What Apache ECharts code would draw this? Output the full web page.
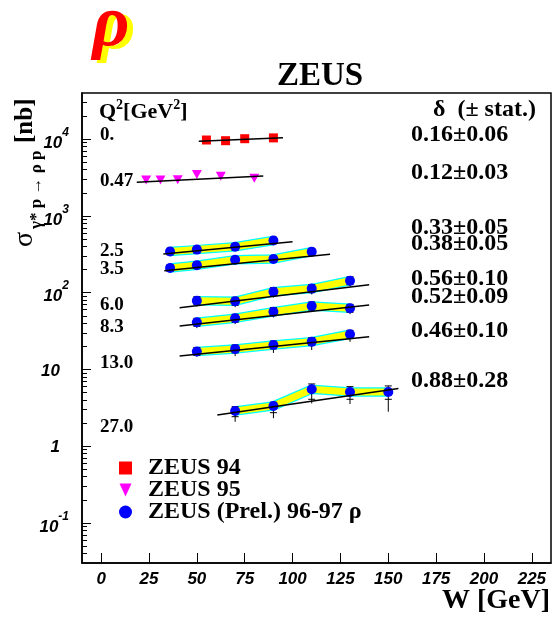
<!DOCTYPE html>
<html><head><meta charset="utf-8">
<script src="https://cdn.jsdelivr.net/npm/echarts@6/dist/echarts.min.js"></script>
<style>html,body{margin:0;padding:0;background:#fff}#c{width:553px;height:621px}</style>
</head><body><div id="c"></div>
<script>
// ---------- axis ticks ----------
const xTicks = [0, 25, 50, 75, 100, 125, 150, 175, 200, 225];
const yTicks = [0.1, 1, 10, 100, 1000, 10000];

// ---------- ZEUS 94 (Q2 = 0) ----------
const w94 = [55, 65, 75, 90];
const s94 = [9760, 9560, 10150, 10400];
const fit94W = [51, 95];
const fit94S = [9390, 10460];

// ---------- ZEUS 95 (Q2 = 0.47) ----------
const w95 = [23.5, 31, 40, 50, 62.5, 80];
const s95 = [2940, 2940, 2960, 3460, 3290, 3090];
const fit95W = [18.6, 84.7];
const fit95S = [2740, 3310];

// ---------- ZEUS (Prel.) 96-97 ----------
const w25 = [36, 50, 70, 90];
const s25 = [344, 364, 396, 479];
const hi25 = [380, 402, 438, 529];
const lo25 = [311, 329, 358, 433];
const tot25 = [303, 320, 348, 421];
const fit25W = [32.5, 100];
const fit25S = [318, 461];

const w35 = [36, 50, 70, 90, 110];
const s35 = [210, 228, 269, 275, 342];
const hi35 = [232, 252, 297, 304, 378];
const lo35 = [190, 206, 243, 249, 309];
const tot35 = [185, 201, 237, 242, 301];
const fit35W = [33, 119.6];
const fit35S = [193, 316];

const w60 = [50, 70, 90, 110, 130];
const s60 = [78.6, 77.2, 103, 113, 143];
const hi60 = [88.6, 87.0, 116, 127, 161];
const lo60 = [69.7, 68.5, 91.4, 100, 127];
const tot60 = [66.0, 64.8, 86.5, 94.9, 120];
const fit60W = [41, 140];
const fit60S = [63.5, 127];

const w83 = [50, 70, 90, 110, 130];
const s83 = [41.1, 46.4, 56.5, 67.0, 62.5];
const hi83 = [46.3, 52.3, 63.7, 75.5, 70.4];
const lo83 = [36.5, 41.2, 50.1, 59.4, 55.5];
const tot83 = [34.5, 39.0, 47.5, 56.3, 52.5];
const fit83W = [41, 140];
const fit83S = [36.7, 68.9];

const w130 = [50, 70, 90, 110, 130];
const s130 = [17.1, 18.5, 20.8, 23.0, 28.7];
const hi130 = [19.3, 20.8, 23.4, 25.9, 32.3];
const lo130 = [15.2, 16.4, 18.5, 20.4, 25.5];
const tot130 = [14.6, 14.9, 16.4, 17.9, 22.9];
const fit130W = [41, 140];
const fit130S = [15.0, 26.6];

const w270 = [70, 90, 110, 130, 150];
const s270 = [2.87, 3.34, 5.51, 5.08, 5.08];
const hi270 = [3.27, 3.73, 6.46, 5.96, 6.09];
const lo270 = [2.42, 2.73, 4.08, 4.08, 4.08];
const tot270 = [2.08, 2.31, 3.61, 3.54, 2.81];
const fit270W = [60.7, 155.3];
const fit270S = [2.54, 5.65];

// ---------- texts ----------
const q2Labels = ['0.', '0.47', '2.5', '3.5', '6.0', '8.3', '13.0', '27.0'];
const deltaLabels = ['0.16\u00b10.06', '0.12\u00b10.03', '0.33\u00b10.05', '0.38\u00b10.05',
                     '0.56\u00b10.10', '0.52\u00b10.09', '0.46\u00b10.10', '0.88\u00b10.28'];
const legendNames = ['ZEUS 94', 'ZEUS 95', 'ZEUS (Prel.) 96-97 \u03c1'];

// ---------- layout (pixels) ----------
const q2LabelY = [135, 181, 251, 269, 305, 327, 363, 427];
const deltaLabelY = [135, 173, 228, 244, 279, 297, 331, 381];

const SERIF = '"Liberation Serif", "DejaVu Serif", serif';
const SANS = '"Liberation Sans", Arial, sans-serif';

const rows = [
  {w: w25, s: s25, hi: hi25, lo: lo25, tot: tot25, fw: fit25W, fs: fit25S},
  {w: w35, s: s35, hi: hi35, lo: lo35, tot: tot35, fw: fit35W, fs: fit35S},
  {w: w60, s: s60, hi: hi60, lo: lo60, tot: tot60, fw: fit60W, fs: fit60S},
  {w: w83, s: s83, hi: hi83, lo: lo83, tot: tot83, fw: fit83W, fs: fit83S},
  {w: w130, s: s130, hi: hi130, lo: lo130, tot: tot130, fw: fit130W, fs: fit130S},
  {w: w270, s: s270, hi: hi270, lo: lo270, tot: tot270, fw: fit270W, fs: fit270S}
];

const pairs = (a, b) => a.map((v, i) => [v, b[i]]);

const minorTicks = [];
for (let e = -2; e <= 4; e++) {
  for (let m = 2; m <= 9; m++) {
    const v = m * Math.pow(10, e);
    if (v > 0.03 && v < 40000) minorTicks.push(v);
  }
}

function errRender(params, api) {
  const x = api.value(0);
  const pT = api.coord([x, api.value(1)]);
  const pL = api.coord([x, api.value(2)]);
  const pH = api.coord([x, api.value(3)]);
  const c = 3.5;
  const st = {stroke: '#000', lineWidth: 1};
  return {type: 'group', children: [
    {type: 'line', shape: {x1: pT[0], y1: pT[1], x2: pH[0], y2: pH[1]}, style: st},
    {type: 'line', shape: {x1: pH[0] - c, y1: pH[1], x2: pH[0] + c, y2: pH[1]}, style: st},
    {type: 'line', shape: {x1: pL[0] - c, y1: pL[1], x2: pL[0] + c, y2: pL[1]}, style: st}
  ]};
}

const series = [];
series.push({name: legendNames[0], type: 'scatter', data: pairs(w94, s94), symbol: 'rect', symbolSize: 9,
  itemStyle: {color: '#ff0000', opacity: 1}, z: 5});
series.push({name: 'fit0', type: 'line', data: pairs(fit94W, fit94S), symbol: 'none', silent: true,
  lineStyle: {color: '#000', width: 1.5}, z: 6});
series.push({name: legendNames[1], type: 'scatter', data: pairs(w95, s95), symbol: 'triangle', symbolRotate: 180,
  symbolSize: [10, 9], itemStyle: {color: '#ff00ff', opacity: 1}, z: 5});
series.push({name: 'fit1', type: 'line', data: pairs(fit95W, fit95S), symbol: 'none', silent: true,
  lineStyle: {color: '#000', width: 1.5}, z: 6});

rows.forEach((r, k) => {
  series.push({name: 'bandE' + k, type: 'line', data: pairs(r.w, r.s), symbol: 'none', silent: true,
    lineStyle: {color: '#00ffff', width: 9.5, cap: 'butt', join: 'miter'}, z: 2});
  series.push({name: 'bandF' + k, type: 'line', data: pairs(r.w, r.s), symbol: 'none', silent: true,
    lineStyle: {color: '#ffff00', width: 7, cap: 'butt', join: 'miter'}, z: 3});
  series.push({name: 'err' + k, type: 'custom', renderItem: errRender, silent: true, z: 4,
    data: r.w.map((w, i) => [w, r.tot[i], r.lo[i], r.hi[i]])});
  series.push({name: legendNames[2], type: 'scatter', data: pairs(r.w, r.s), symbol: 'circle', symbolSize: 10,
    itemStyle: {color: '#0000ff', opacity: 1}, z: 5});
  series.push({name: 'fitR' + k, type: 'line', data: pairs(r.fw, r.fs), symbol: 'none', silent: true,
    lineStyle: {color: '#000', width: 1.5}, z: 6});
});

function yFmt(v) {
  const e = Math.round(Math.log10(v));
  if (e === 0) return '{c|1}{p|}';
  if (e === 1) return '{c|10}{p|}';
  return '{b|10}{s|' + e + '}';
}

const graphic = [];
// rho logo
graphic.push({type: 'text', x: 117, y: 29, z: 10, style: {text: '\u03c1', font: 'italic bold 72px ' + SERIF,
  fill: '#ffff00', textAlign: 'center', textVerticalAlign: 'middle'}});
graphic.push({type: 'text', x: 111, y: 26, z: 11, style: {text: '\u03c1', font: 'italic bold 72px ' + SERIF,
  fill: '#ff0000', textAlign: 'center', textVerticalAlign: 'middle'}});
// title
graphic.push({type: 'text', x: 320, y: 76, style: {text: 'ZEUS', font: 'bold 33px ' + SERIF,
  fill: '#000', textAlign: 'center', textVerticalAlign: 'middle'}});
// Q2 header
graphic.push({type: 'text', x: 99, y: 109, style: {
  text: '{b|Q}{s|2}{b|[GeV}{s|2}{b|]}', textAlign: 'left', textVerticalAlign: 'middle',
  rich: {
    b: {font: 'bold 22px ' + SERIF, fill: '#000', lineHeight: 22, padding: [6, 0, 0, 0], verticalAlign: 'middle'},
    s: {font: 'bold 14px ' + SERIF, fill: '#000', lineHeight: 14, padding: [0, 0, 8, 0], verticalAlign: 'middle'}
  }}});
// delta header
graphic.push({type: 'text', x: 433, y: 110, style: {text: '\u03b4  (\u00b1 stat.)', font: 'bold 24px ' + SERIF,
  fill: '#000', textAlign: 'left', textVerticalAlign: 'middle'}});
q2Labels.forEach((t, i) => graphic.push({type: 'text', x: 100, y: q2LabelY[i], style: {text: t,
  font: 'bold 19px ' + SERIF, fill: '#000', textAlign: 'left', textVerticalAlign: 'middle'}}));
deltaLabels.forEach((t, i) => graphic.push({type: 'text', x: 411, y: deltaLabelY[i], style: {text: t,
  font: 'bold 24px ' + SERIF, fill: '#000', textAlign: 'left', textVerticalAlign: 'middle'}}));
// x axis title
graphic.push({type: 'text', x: 550, y: 601, style: {text: 'W [GeV]', font: 'bold 28px ' + SERIF,
  fill: '#000', textAlign: 'right', textVerticalAlign: 'middle'}});
// y axis title (rotated)
graphic.push({type: 'group', x: 34, y: 247, rotation: Math.PI / 2, children: [
  {type: 'text', x: 0, y: -9.5, style: {text: '\u03c3', font: '28px ' + SERIF, fill: '#000',
    textAlign: 'left', textVerticalAlign: 'middle'}},
  {type: 'text', x: 18, y: 3, style: {text: '\u03b3* p \u2192 \u03c1 p', font: 'bold 17px ' + SERIF, fill: '#000',
    textAlign: 'left', textVerticalAlign: 'middle'}},
  {type: 'text', x: 104, y: -8, style: {text: '[nb]', font: 'bold 25px ' + SERIF, fill: '#000',
    textAlign: 'left', textVerticalAlign: 'middle'}}
]});

const option = {
  animation: false,
  backgroundColor: '#fff',
  grid: {left: 82, top: 93, right: 2, bottom: 58, show: true, borderColor: '#000', borderWidth: 1.5,
    containLabel: false, outerBoundsMode: 'none'},
  legend: {
    orient: 'vertical', left: 114, top: 451, itemWidth: 13, itemHeight: 13, itemGap: -2,
    selectedMode: false,
    textStyle: {fontFamily: SERIF, fontWeight: 'bold', fontSize: 24, color: '#000', lineHeight: 22,
      padding: [0, 0, 0, 11]},
    data: [
      {name: legendNames[0], icon: 'rect', itemStyle: {color: '#ff0000'}},
      {name: legendNames[1], icon: 'path://M0,0L12,0L6,13Z', itemStyle: {color: '#ff00ff'}},
      {name: legendNames[2], icon: 'circle', itemStyle: {color: '#0000ff'}}
    ]
  },
  xAxis: {
    type: 'value', min: -10, max: 235,
    axisLine: {show: true, onZero: false, lineStyle: {color: '#000', width: 1.5}},
    axisTick: {show: true, inside: true, length: 10, customValues: xTicks, lineStyle: {color: '#000', width: 1}},
    axisLabel: {customValues: xTicks, margin: 8, color: '#000', fontFamily: SANS, fontStyle: 'italic',
      fontWeight: 'bold', fontSize: 17},
    splitLine: {show: false}
  },
  yAxis: [{
    type: 'log', logBase: 10, min: 0.03, max: 40000,
    axisLine: {show: true, onZero: false, lineStyle: {color: '#000', width: 1.5}},
    axisTick: {show: true, inside: true, length: 9, customValues: yTicks, lineStyle: {color: '#000', width: 1}},
    axisLabel: {customValues: yTicks, margin: 13, formatter: yFmt, rich: {
      b: {fontFamily: SANS, fontStyle: 'italic', fontWeight: 'bold', fontSize: 17, color: '#000',
          lineHeight: 17, padding: [8, 0, 0, 0], verticalAlign: 'middle'},
      s: {fontFamily: SANS, fontStyle: 'italic', fontWeight: 'bold', fontSize: 12, color: '#000',
          lineHeight: 12, padding: [0, 0, 13, 0], verticalAlign: 'middle'},
      c: {fontFamily: SANS, fontStyle: 'italic', fontWeight: 'bold', fontSize: 17, color: '#000',
          lineHeight: 17, padding: [3, 0, 0, 0], verticalAlign: 'middle'},
      p: {width: 9, lineHeight: 12}
    }},
    splitLine: {show: false}
  }, {
    type: 'log', logBase: 10, min: 0.03, max: 40000, position: 'left',
    axisLine: {show: false, onZero: false},
    axisTick: {show: true, inside: true, length: 5, customValues: minorTicks, lineStyle: {color: '#000', width: 1}},
    axisLabel: {show: false},
    splitLine: {show: false}
  }],
  graphic: graphic,
  series: series
};

const chart = echarts.init(document.getElementById('c'));
chart.setOption(option);
</script>
</body></html>
